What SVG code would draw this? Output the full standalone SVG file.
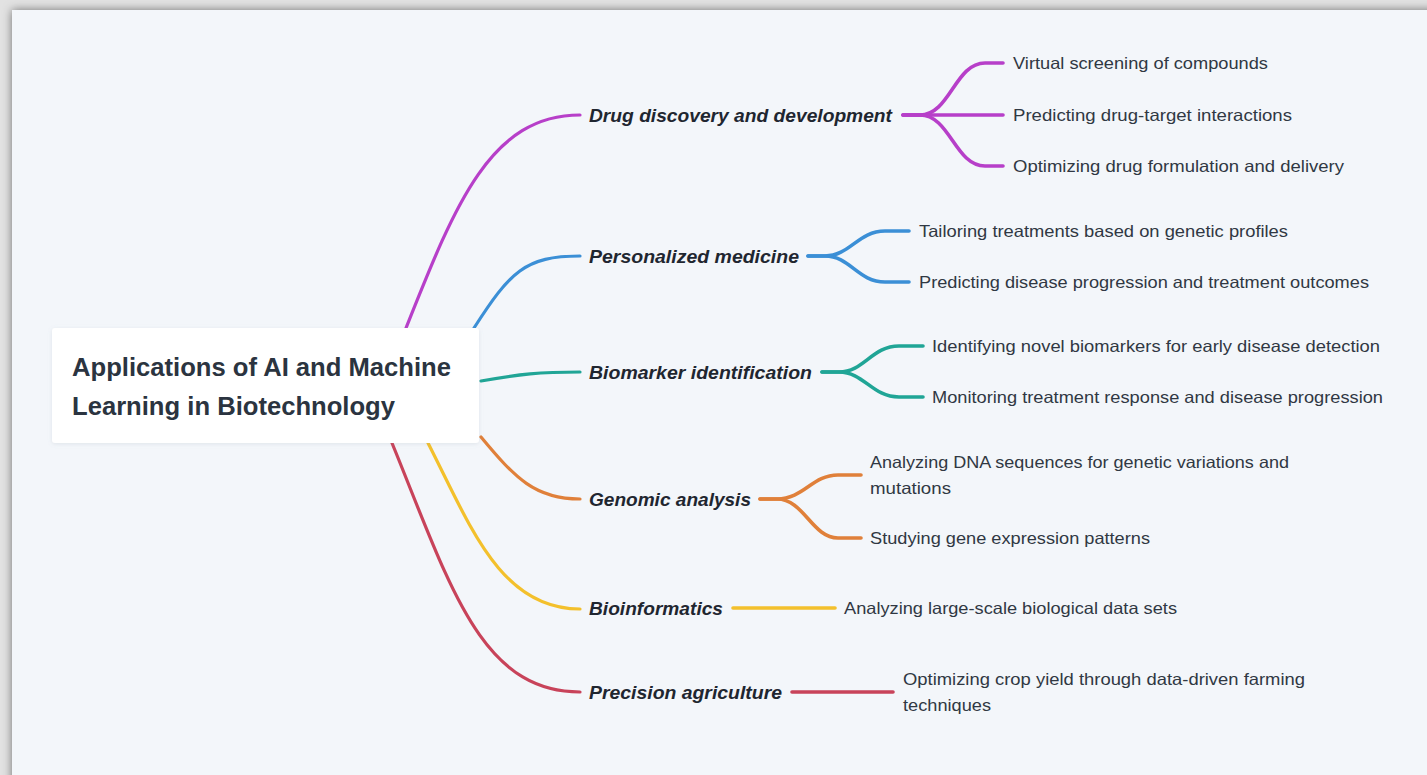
<svg xmlns="http://www.w3.org/2000/svg" width="1427" height="775" viewBox="0 0 1427 775">
<defs>
<filter id="frameShadow" x="-5%" y="-5%" width="110%" height="110%">
<feDropShadow dx="0" dy="0" stdDeviation="5" flood-color="#000" flood-opacity="0.5"/>
</filter>
<filter id="boxShadow" x="-10%" y="-20%" width="120%" height="140%">
<feDropShadow dx="0" dy="1" stdDeviation="2" flood-color="#8090a0" flood-opacity="0.18"/>
</filter>
<style>
.title{font-family:"Liberation Sans",Arial,sans-serif;font-weight:bold;font-size:25px;fill:#2b3440}
.lbl{font-family:"Liberation Sans",Arial,sans-serif;font-weight:bold;font-style:italic;font-size:19px;fill:#1f2630}
.sub{font-family:"Liberation Sans",Arial,sans-serif;font-size:16.5px;fill:#303843}
.c{fill:none;stroke-width:3.2;stroke-linecap:round}
.s{fill:none;stroke-width:3.6;stroke-linecap:round;stroke-linejoin:round}
.p{stroke:#b73fc9}.b{stroke:#3b8fd6}.t{stroke:#20a596}.o{stroke:#e0803a}.y{stroke:#f3c02c}.r{stroke:#c8435a}
</style>
</defs>
<rect x="0" y="0" width="1427" height="775" fill="#e2e2e2"/>
<rect x="12" y="10" width="1430" height="780" fill="#f3f6fa" filter="url(#frameShadow)"/>

<g id="connectors">
<path class="c p" d="M406,328 C 455,205 490,115 580,115"/>
<path class="c b" d="M474,328 C 510,272 525,256 580,256"/>
<path class="c t" d="M481,381 C 520,374 540,372 580,372"/>
<path class="c o" d="M481,437 C 515,478 535,499 580,499"/>
<path class="c y" d="M428,443 C 470,525 500,609 580,609"/>
<path class="c r" d="M392,443 C 450,585 480,692 580,692"/>

<path class="s p" d="M903,115 L920,115 C 950,115 955,63 985,63 L1003,63"/>
<path class="s p" d="M903,115 L1003,115"/>
<path class="s p" d="M903,115 L920,115 C 950,115 955,166 985,166 L1003,166"/>

<path class="s b" d="M808,256 L825,256 C 850,256 858,231 885,231 L909,231"/>
<path class="s b" d="M808,256 L825,256 C 850,256 858,282 885,282 L909,282"/>

<path class="s t" d="M822,372 L839,372 C 864,372 872,346 899,346 L923,346"/>
<path class="s t" d="M822,372 L839,372 C 864,372 872,397 899,397 L923,397"/>

<path class="s o" d="M760,499 L777,499 C 804,499 812,475 838,475 L861,475"/>
<path class="s o" d="M760,499 L777,499 C 804,499 812,538 838,538 L861,538"/>

<path class="s y" d="M733,608 L835,608"/>
<path class="s r" d="M792,692 L893,692"/>
</g>

<g id="root">
<rect x="52" y="328" width="427" height="115" rx="3" fill="#ffffff" filter="url(#boxShadow)"/>
<text class="title" x="72" y="376" textLength="379" lengthAdjust="spacingAndGlyphs">Applications of AI and Machine</text>
<text class="title" x="72" y="415" textLength="323" lengthAdjust="spacingAndGlyphs">Learning in Biotechnology</text>
</g>

<g id="n-drug">
<text class="lbl" x="589" y="122" textLength="303" lengthAdjust="spacingAndGlyphs">Drug discovery and development</text>
</g>
<g id="n-drug-1"><text class="sub" x="1013" y="69" textLength="255" lengthAdjust="spacingAndGlyphs">Virtual screening of compounds</text></g>
<g id="n-drug-2"><text class="sub" x="1013" y="121" textLength="279" lengthAdjust="spacingAndGlyphs">Predicting drug-target interactions</text></g>
<g id="n-drug-3"><text class="sub" x="1013" y="172" textLength="331" lengthAdjust="spacingAndGlyphs">Optimizing drug formulation and delivery</text></g>

<g id="n-pers">
<text class="lbl" x="589" y="263" textLength="210" lengthAdjust="spacingAndGlyphs">Personalized medicine</text>
</g>
<g id="n-pers-1"><text class="sub" x="919" y="237" textLength="369" lengthAdjust="spacingAndGlyphs">Tailoring treatments based on genetic profiles</text></g>
<g id="n-pers-2"><text class="sub" x="919" y="288" textLength="450" lengthAdjust="spacingAndGlyphs">Predicting disease progression and treatment outcomes</text></g>

<g id="n-bio">
<text class="lbl" x="589" y="379" textLength="223" lengthAdjust="spacingAndGlyphs">Biomarker identification</text>
</g>
<g id="n-bio-1"><text class="sub" x="932" y="352" textLength="448" lengthAdjust="spacingAndGlyphs">Identifying novel biomarkers for early disease detection</text></g>
<g id="n-bio-2"><text class="sub" x="932" y="403" textLength="451" lengthAdjust="spacingAndGlyphs">Monitoring treatment response and disease progression</text></g>

<g id="n-gen">
<text class="lbl" x="589" y="506" textLength="162" lengthAdjust="spacingAndGlyphs">Genomic analysis</text>
</g>
<g id="n-gen-1">
<text class="sub" x="870" y="468" textLength="419" lengthAdjust="spacingAndGlyphs">Analyzing DNA sequences for genetic variations and</text>
<text class="sub" x="870" y="494" textLength="81" lengthAdjust="spacingAndGlyphs">mutations</text>
</g>
<g id="n-gen-2"><text class="sub" x="870" y="544" textLength="280" lengthAdjust="spacingAndGlyphs">Studying gene expression patterns</text></g>

<g id="n-binf">
<text class="lbl" x="589" y="615" textLength="134" lengthAdjust="spacingAndGlyphs">Bioinformatics</text>
</g>
<g id="n-binf-1"><text class="sub" x="844" y="614" textLength="333" lengthAdjust="spacingAndGlyphs">Analyzing large-scale biological data sets</text></g>

<g id="n-agri">
<text class="lbl" x="589" y="699" textLength="193" lengthAdjust="spacingAndGlyphs">Precision agriculture</text>
</g>
<g id="n-agri-1">
<text class="sub" x="903" y="685" textLength="402" lengthAdjust="spacingAndGlyphs">Optimizing crop yield through data-driven farming</text>
<text class="sub" x="903" y="711" textLength="88" lengthAdjust="spacingAndGlyphs">techniques</text>
</g>
</svg>
